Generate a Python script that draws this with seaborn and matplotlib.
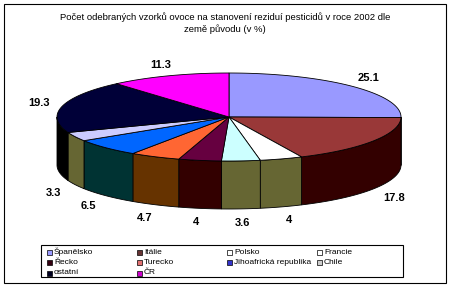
import numpy as np
import matplotlib
matplotlib.use("Agg")
import matplotlib.pyplot as plt
import seaborn as sns
from matplotlib.patches import Rectangle

# ---- data ----
countries = ["Španělsko", "Itálie", "Polsko", "Francie", "Řecko", "Turecko",
             "Jihoafrická republika", "Chile", "ostatní", "ČR"]
values = [25.1, 17.8, 4, 3.6, 4, 4.7, 6.5, 3.3, 19.3, 11.3]
value_labels = ["25.1", "17.8", "4", "3.6", "4", "4.7", "6.5", "3.3", "19.3", "11.3"]
top_colors = ["#9999FF", "#993838", "#FFFFFF", "#CCFFFF", "#660040", "#FF6633",
              "#0066FF", "#CCCCFF", "#000038", "#FF00FF"]
side_colors = ["#4C4C80", "#330000", "#666633", "#666633", "#330000", "#663300",
               "#003333", "#666633", "#000000", "#800080"]
legend_colors = ["#9999FF", "#663333", "#FFFFFF", "#FFFFFF", "#330011", "#E07070",
                 "#3333CC", "#CCCCCC", "#000022", "#CC00CC"]
title = ("Počet odebraných vzorků ovoce na stanovení reziduí pesticidů v roce 2002 dle\n"
         "země původu (v %)")

sns.set_theme(style="white")
plt.rcParams['font.family'] = ['Liberation Sans', 'DejaVu Sans']

W, H = 449, 289
fig = plt.figure(figsize=(W / 100, H / 100), dpi=100)
ax = fig.add_axes([0, 0, 1, 1])
ax.set_xlim(0, W)
ax.set_ylim(H, 0)
ax.axis('off')

cx, cy, a, b, depth = 229, 117, 172, 44, 48


def pt(t, dy=0.0):
    r = np.radians(t)
    return cx + a * np.cos(r), cy - b * np.sin(r) + dy


total = sum(values)
cum = np.concatenate([[0], np.cumsum(values)])
starts = 90 - 360 * cum[:-1] / total
ends = 90 - 360 * cum[1:] / total

# sides (front half only)
for s, e, sc in zip(starts, ends, side_colors):
    t1, t2 = min(s, 0), max(e, -180)
    if t1 <= t2:
        continue
    ts = np.linspace(t1, t2, 60)
    xs_top, ys_top = pt(ts)
    xs_bot, ys_bot = pt(ts[::-1], depth)
    ax.fill(np.concatenate([xs_top, xs_bot]), np.concatenate([ys_top, ys_bot]),
            facecolor=sc, edgecolor="black", linewidth=0.6, zorder=2)

# top faces
for s, e, tc in zip(starts, ends, top_colors):
    ts = np.linspace(s, e, 120)
    xs, ys = pt(ts)
    ax.fill(np.concatenate([[cx], xs]), np.concatenate([[cy], ys]),
            facecolor=tc, edgecolor="black", linewidth=0.6, zorder=3)

# value labels
for s, e, lab in zip(starts, ends, value_labels):
    m = np.radians((s + e) / 2)
    lx = cx + a * np.cos(m) * 1.14
    ly = cy - b * np.sin(m) * 1.25
    if np.sin(m) < 0:
        ly += depth + 3
    ax.text(lx, ly, lab, ha="center", va="center", fontsize=8,
            fontweight="bold", color="black", zorder=5)

# title
ax.text(225, 23, title, ha="center", va="center", fontsize=6.8,
        linespacing=1.3, color="black")

# legend
ax.add_patch(Rectangle((41, 245), 362, 32, facecolor="white",
                       edgecolor="black", linewidth=0.8, zorder=4))
for i, (name, lc) in enumerate(zip(countries, legend_colors)):
    col, row = i % 4, i // 4
    x0 = 47 + col * 90
    y0 = 252 + row * 10.5
    ax.add_patch(Rectangle((x0, y0 - 2.5), 5, 5, facecolor=lc,
                           edgecolor="black", linewidth=0.5, zorder=5))
    ax.text(x0 + 7, y0, name, ha="left", va="center", fontsize=6,
            color="black", zorder=5)

# outer border
ax.add_patch(Rectangle((4, 4), 442, 279, facecolor="none",
                       edgecolor="black", linewidth=0.8, zorder=6))

fig.savefig("out.png", dpi=100)
